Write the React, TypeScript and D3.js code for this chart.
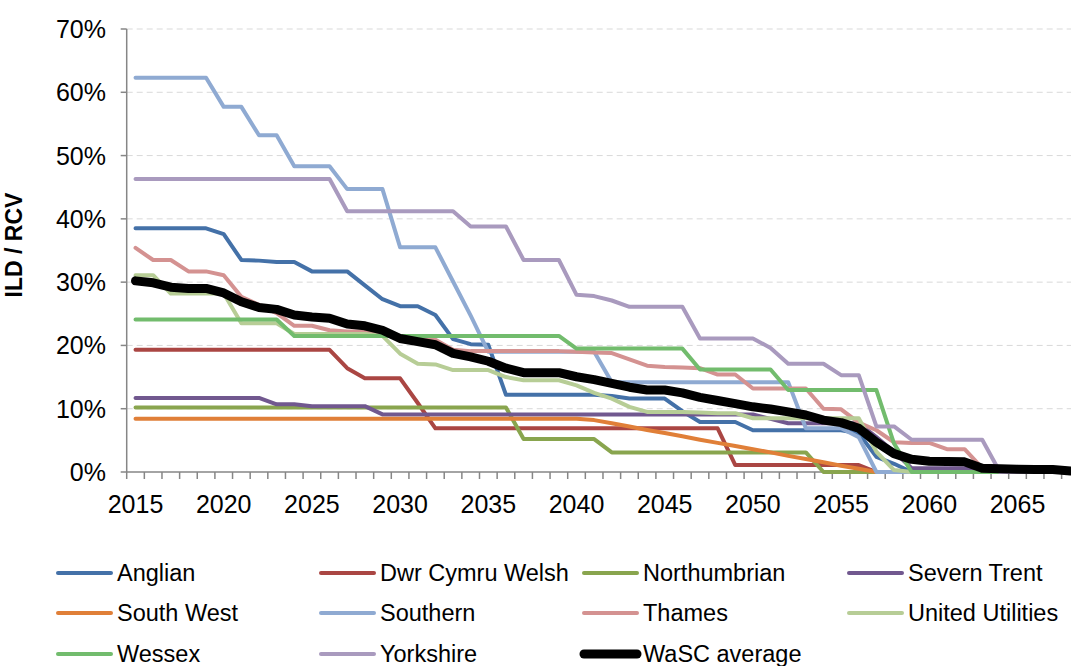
import React from "react";
import * as d3 from "d3";

const years: number[] = [
  2015, 2016, 2017, 2018, 2019, 2020, 2021, 2022, 2023, 2024,
  2025, 2026, 2027, 2028, 2029, 2030, 2031, 2032, 2033, 2034,
  2035, 2036, 2037, 2038, 2039, 2040, 2041, 2042, 2043, 2044,
  2045, 2046, 2047, 2048, 2049, 2050, 2051, 2052, 2053, 2054,
  2055, 2056, 2057, 2058, 2059, 2060, 2061, 2062, 2063, 2064,
  2065, 2066, 2067, 2068,
];

const tickYears: number[] = [2015, 2020, 2025, 2030, 2035, 2040, 2045, 2050, 2055, 2060, 2065];
const yTicks: number[] = [0, 10, 20, 30, 40, 50, 60, 70];

const anglian: number[] = [
  38.5, 38.5, 38.5, 38.5, 38.5, 37.6, 33.5, 33.4, 33.2, 33.2,
  31.7, 31.7, 31.7, 29.5, 27.3, 26.2, 26.2, 24.8, 21.0, 20.2,
  20.1, 12.2, 12.2, 12.2, 12.2, 12.2, 12.2, 12.0, 11.6, 11.6,
  11.6, 9.6, 7.9, 7.9, 7.9, 6.6, 6.6, 6.6, 6.6, 6.6,
  6.6, 6.1, 2.4, 1.3, 0, 0, 0, 0, 0, 0,
  0, 0, 0, 0,
];
const dwrCymru: number[] = [
  19.3, 19.3, 19.3, 19.3, 19.3, 19.3, 19.3, 19.3, 19.3, 19.3,
  19.3, 19.3, 16.4, 14.8, 14.8, 14.8, 10.9, 6.9, 6.9, 6.9,
  6.9, 6.9, 6.9, 6.9, 6.9, 6.9, 6.9, 6.9, 6.9, 6.9,
  6.9, 6.9, 6.9, 6.9, 1.1, 1.1, 1.1, 1.1, 1.1, 1.1,
  1.1, 1.1, 0, 0, 0, 0, 0, 0, 0, 0,
  0, 0, 0, 0,
];
const northumbrian: number[] = [
  10.2, 10.2, 10.2, 10.2, 10.2, 10.2, 10.2, 10.2, 10.2, 10.2,
  10.2, 10.2, 10.2, 10.2, 10.2, 10.2, 10.2, 10.2, 10.2, 10.2,
  10.2, 10.2, 5.2, 5.2, 5.2, 5.2, 5.2, 3.1, 3.1, 3.1,
  3.1, 3.1, 3.1, 3.1, 3.1, 3.1, 3.1, 3.1, 3.1, 0,
  0, 0, 0, 0, 0, 0, 0, 0, 0, 0,
  0, 0, 0, 0,
];
const severnTrent: number[] = [
  11.7, 11.7, 11.7, 11.7, 11.7, 11.7, 11.7, 11.7, 10.7, 10.7,
  10.4, 10.4, 10.4, 10.4, 9.1, 9.1, 9.1, 9.1, 9.1, 9.1,
  9.1, 9.1, 9.1, 9.1, 9.1, 9.1, 9.1, 9.1, 9.1, 9.1,
  9.1, 9.1, 9.1, 9.1, 9.1, 9.1, 8.4, 7.7, 7.7, 7.7,
  7.7, 7.7, 5.5, 3.2, 0.6, 0.6, 0.6, 0.6, 0, 0,
  0, 0, 0, 0,
];
const southWest: number[] = [
  8.4, 8.4, 8.4, 8.4, 8.4, 8.4, 8.4, 8.4, 8.4, 8.4,
  8.4, 8.4, 8.4, 8.4, 8.4, 8.4, 8.4, 8.4, 8.4, 8.4,
  8.4, 8.4, 8.4, 8.4, 8.4, 8.4, 8.2, 7.7, 7.2, 6.65,
  6.15, 5.65, 5.1, 4.6, 4.1, 3.6, 3.1, 2.55, 2.05, 1.55,
  1.0, 0.5, 0, 0, 0, 0, 0, 0, 0, 0,
  0, 0, 0, 0,
];
const southern: number[] = [
  62.3, 62.3, 62.3, 62.3, 62.3, 57.7, 57.7, 53.2, 53.2, 48.3,
  48.3, 48.3, 44.7, 44.7, 44.7, 35.5, 35.5, 35.5, 30.1, 24.7,
  19.0, 19.0, 19.0, 19.0, 19.0, 19.0, 19.0, 14.2, 14.2, 14.2,
  14.2, 14.2, 14.2, 14.2, 14.2, 14.2, 14.2, 14.2, 6.9, 6.9,
  6.9, 5.5, 0, 0, 0, 0, 0, 0, 0, 0,
  0, 0, 0, 0,
];
const thames: number[] = [
  35.4, 33.5, 33.5, 31.7, 31.7, 31.1, 27.7, 26.4, 25.1, 23.1,
  23.1, 22.4, 22.2, 22.2, 21.8, 21.5, 21.3, 20.9, 19.3, 19.1,
  19.1, 19.1, 19.1, 19.1, 19.1, 19.0, 18.9, 18.8, 17.8, 16.8,
  16.6, 16.5, 16.4, 15.4, 15.4, 13.2, 13.2, 13.2, 13.2, 10.0,
  9.9, 7.8, 6.6, 4.7, 4.6, 4.6, 3.6, 3.6, 0.6, 0,
  0, 0, 0, 0,
];
const unitedUtilities: number[] = [
  31.1, 31.1, 28.2, 28.2, 28.2, 28.2, 23.5, 23.5, 23.5, 21.8,
  21.8, 21.8, 21.8, 21.8, 21.5, 18.7, 17.1, 17.0, 16.1, 16.1,
  16.1, 15.0, 14.5, 14.5, 14.5, 13.7, 12.5, 11.6, 10.3, 9.5,
  9.5, 9.5, 9.4, 9.3, 9.3, 8.5, 8.5, 8.5, 8.5, 8.5,
  8.5, 8.5, 3.2, 0.3, 0, 0, 0, 0, 0, 0,
  0, 0, 0, 0,
];
const wessex: number[] = [
  24.1, 24.1, 24.1, 24.1, 24.1, 24.1, 24.1, 24.1, 24.1, 21.5,
  21.5, 21.5, 21.5, 21.5, 21.5, 21.5, 21.5, 21.5, 21.5, 21.5,
  21.5, 21.5, 21.5, 21.5, 21.5, 19.5, 19.5, 19.5, 19.5, 19.5,
  19.5, 19.5, 16.2, 16.2, 16.2, 16.2, 16.2, 12.95, 12.95, 12.95,
  12.95, 12.95, 12.95, 4.5, 0, 0, 0, 0, 0, 0,
  0, 0, 0, 0,
];
const yorkshire: number[] = [
  46.3, 46.3, 46.3, 46.3, 46.3, 46.3, 46.3, 46.3, 46.3, 46.3,
  46.3, 46.3, 41.2, 41.2, 41.2, 41.2, 41.2, 41.2, 41.2, 38.8,
  38.8, 38.8, 33.5, 33.5, 33.5, 28.0, 27.8, 27.1, 26.1, 26.1,
  26.1, 26.1, 21.1, 21.1, 21.1, 21.1, 19.6, 17.1, 17.1, 17.1,
  15.3, 15.3, 7.2, 7.2, 5.1, 5.1, 5.1, 5.1, 5.1, 0,
  0, 0, 0, 0,
];
const wascAverage: number[] = [
  30.2, 29.9, 29.2, 29.0, 29.0, 28.3, 26.9, 26.0, 25.7, 24.8,
  24.5, 24.3, 23.4, 23.1, 22.4, 21.1, 20.6, 20.1, 18.75, 18.2,
  17.5, 16.4, 15.7, 15.7, 15.7, 15.05, 14.6, 14.0, 13.4, 12.95,
  12.95, 12.5, 11.8, 11.3, 10.8, 10.3, 9.95, 9.5, 9.0, 8.2,
  7.8, 6.9, 4.7, 2.9, 2.0, 1.7, 1.65, 1.6, 0.6, 0.5,
  0.45, 0.4, 0.4, 0.15,
];

const seriesNames: string[] = [
  "Anglian", "Dwr Cymru Welsh", "Northumbrian", "Severn Trent",
  "South West", "Southern", "Thames", "United Utilities",
  "Wessex", "Yorkshire", "WaSC average",
];
const seriesValues: number[][] = [
  anglian, dwrCymru, northumbrian, severnTrent, southWest, southern,
  thames, unitedUtilities, wessex, yorkshire, wascAverage,
];
const seriesColors: string[] = [
  "#4471A8", "#AA4643", "#89A54E", "#71588F", "#E07F38", "#8FAAD2",
  "#D49291", "#B7CD96", "#72BC6D", "#A99ABE", "#000000",
];

const FONT = "'Liberation Sans', Arial, sans-serif";

export default function App() {
  const width = 1071;
  const height = 666;
  const left = 126.7;
  const step = 17.64;
  const x = d3
    .scaleBand<number>()
    .domain(years)
    .range([left, left + step * years.length])
    .paddingInner(0)
    .paddingOuter(0);
  const bw = x.bandwidth();
  const cx = (yr: number) => (x(yr) as number) + bw / 2;
  const y = d3.scaleLinear().domain([0, 70]).range([472, 29]);

  const line = d3
    .line<number>()
    .x((_, i) => cx(years[i]))
    .y((v) => y(v));

  const axisColor = "#868686";
  const bottom = y(0);

  const boundaries = years.map((yr) => x(yr) as number).concat([left + step * years.length]);

  const legendCols = [58, 321, 584, 849];
  const legendRows = [573, 613, 654];

  return (
    <svg
      width={width}
      height={height}
      style={{ position: "absolute", left: 0, top: 0, background: "#fff" }}
      fontFamily={FONT}
    >
      <rect x={0} y={0} width={width} height={height} fill="#fff" />
      {yTicks.filter((t) => t > 0).map((t) => (
        <line
          key={"g" + t}
          x1={left}
          x2={width}
          y1={y(t)}
          y2={y(t)}
          stroke="#D9D9D9"
          strokeWidth={1}
          strokeDasharray="6,4"
        />
      ))}
      <line x1={left} x2={left} y1={y(70)} y2={bottom} stroke={axisColor} strokeWidth={1.5} />
      {yTicks.map((t) => (
        <g key={"yt" + t}>
          <line x1={left - 6} x2={left} y1={y(t)} y2={y(t)} stroke={axisColor} strokeWidth={1.5} />
          <text x={106} y={y(t)} dy="0.36em" textAnchor="end" fontSize={25} fill="#000">
            {t + "%"}
          </text>
        </g>
      ))}
      <line x1={left} x2={width} y1={bottom} y2={bottom} stroke={axisColor} strokeWidth={1.5} />
      {boundaries.map((bx, i) => (
        <line key={"xt" + i} x1={bx} x2={bx} y1={bottom} y2={bottom + 7} stroke={axisColor} strokeWidth={1.5} />
      ))}
      {tickYears.map((yr) => (
        <text key={"xl" + yr} x={cx(yr)} y={513} textAnchor="middle" fontSize={25} fill="#000">
          {yr}
        </text>
      ))}
      <text
        transform={`translate(22,245) rotate(-90)`}
        textAnchor="middle"
        fontSize={23}
        fontWeight="bold"
        fill="#000"
      >
        ILD / RCV
      </text>
      {seriesValues.map((vals, i) => (
        <path
          key={"s" + i}
          d={line(vals) || ""}
          fill="none"
          stroke={seriesColors[i]}
          strokeWidth={i === 10 ? 9 : 4}
          strokeLinejoin="round"
          strokeLinecap="round"
        />
      ))}
      {seriesNames.map((name, i) => {
        const lx = legendCols[i % 4];
        const ly = legendRows[Math.floor(i / 4)];
        return (
          <g key={"l" + i}>
            <line
              x1={lx}
              x2={lx + 53}
              y1={ly}
              y2={ly}
              stroke={seriesColors[i]}
              strokeWidth={i === 10 ? 9 : 4}
              strokeLinecap="round"
            />
            <text x={lx + 59} y={ly} dy="0.36em" fontSize={23.5} fill="#000">
              {name}
            </text>
          </g>
        );
      })}
    </svg>
  );
}
